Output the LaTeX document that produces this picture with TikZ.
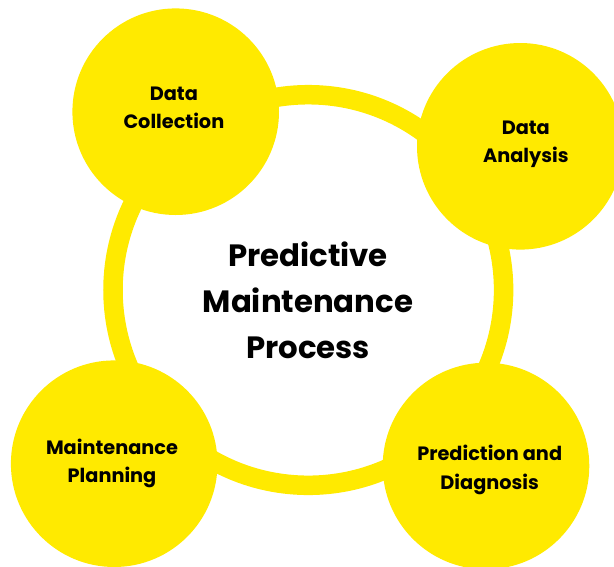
\documentclass[tikz,border=0pt]{standalone}
\usepackage{fontspec}
\setmainfont{Poppins}
\definecolor{sunyellow}{RGB}{255,234,0}
\begin{document}
\begin{tikzpicture}[x=1pt,y=-1pt,
  ring/.style={draw=sunyellow,line width=19.5pt},
  bubble/.style={circle,fill=sunyellow,minimum size=206.6pt,inner sep=0pt},
  small/.style={align=center,anchor=base,inner sep=0pt,font=\bfseries\fontsize{19.3}{28.5}\selectfont},
  big/.style={align=center,anchor=base,inner sep=0pt,font=\bfseries\fontsize{30.8}{46}\selectfont}]
\useasboundingbox (0,0) rectangle (614,566);
\coordinate (c) at (308.3,290);
\draw[ring] (c) circle[radius=195.3pt];
\node[bubble] (dc) at (175.7,111.7) {};
\node[bubble] (da) at (520.3,146.3) {};
\node[bubble] (mp) at (114.2,463.7) {};
\node[bubble] (pd) at (486,466) {};
\node[small] (tdc) at (173.9,128.5) {Data\\Collection};
\node[small] (tda) at (525.8,162.5) {Data\\Analysis};
\node[small] (tmp) at (112,482.8) {Maintenance\\Planning};
\node[small] (tpd) at (489.7,489.2) {Prediction and\\Diagnosis};
\node[big] (tc) at (308,358) {Predictive\\Maintenance\\Process};
\end{tikzpicture}
\end{document}
